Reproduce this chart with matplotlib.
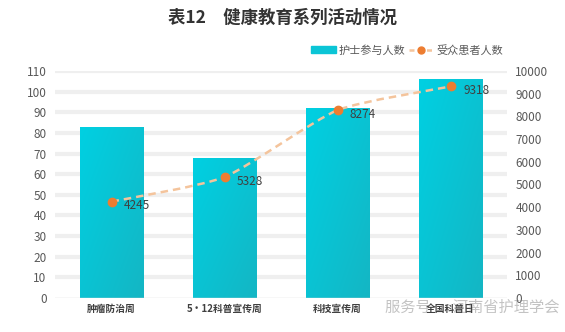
import numpy as np
import matplotlib.pyplot as plt
from matplotlib.path import Path
from matplotlib.patches import PathPatch
from matplotlib.lines import Line2D
from matplotlib.patches import Patch
from matplotlib.colors import LinearSegmentedColormap

plt.rcParams['font.family'] = ['Noto Sans CJK SC', 'DejaVu Sans']

# data
categories = ['肿瘤防治周', '5•12科普宣传周', '科技宣传周', '全国科普日']
nurses = [83, 68, 92, 106]
patients = [4245, 5328, 8274, 9318]

bar_color = '#0BC5D6'
line_color = '#F4C49C'
marker_color = '#ED7D31'

fig = plt.figure(figsize=(5.65, 3.32), dpi=100)
ax = fig.add_axes([55 / 565, 1 - 298 / 332, 452 / 565, 227 / 332])
ax2 = ax.twinx()

x = np.arange(len(categories))
bars = ax.bar(x, nurses, width=0.566, color=bar_color, zorder=2)

# diagonal gradient on bars (light top-left, darker bottom-right)
cmap = LinearSegmentedColormap.from_list('g', ['#00D0E2', '#14B6C4'])
gx, gy = np.meshgrid(np.linspace(0, 1, 40), np.linspace(0, 1, 120))
grad = (gx + gy) / 2
for b in bars:
    x0, y0 = b.get_x(), b.get_y()
    im = ax.imshow(grad, cmap=cmap, extent=(x0, x0 + b.get_width(), y0, y0 + b.get_height()),
                   origin='upper', aspect='auto', zorder=2, interpolation='bilinear')
    im.set_clip_path(b)
    b.set_alpha(0)

ax.set_xlim(-0.5, 3.5)
ax.set_ylim(0, 110)
ax.set_yticks(range(0, 111, 10))
ax2.set_ylim(0, 10000)
ax2.set_yticks(range(0, 10001, 1000))

# grid bands
for v in range(10, 111, 10):
    ax.axhline(v, color='#EFEFEF', lw=3, zorder=0)
ax.axhline(0, color='#D9D9D9', lw=1, zorder=3)

# smooth dashed line through the points
px = x.astype(float)
py = np.array(patients, dtype=float)
verts = [(px[0], py[0])]
codes = [Path.MOVETO]
t = 0.1
for i in range(len(px) - 1):
    p0 = (px[i - 1], py[i - 1]) if i > 0 else (px[i], py[i])
    p1 = (px[i], py[i])
    p2 = (px[i + 1], py[i + 1])
    p3 = (px[i + 2], py[i + 2]) if i + 2 < len(px) else p2
    c1 = (p1[0] + (p2[0] - p0[0]) * t, p1[1] + (p2[1] - p0[1]) * t)
    c2 = (p2[0] - (p3[0] - p1[0]) * t, p2[1] - (p3[1] - p1[1]) * t)
    verts += [c1, c2, p2]
    codes += [Path.CURVE4] * 3
ax2.add_patch(PathPatch(Path(verts, codes), fill=False, ec=line_color, lw=1.8,
                        ls=(0, (3, 2)), zorder=4))
ax2.plot(px, py, 'o', color=marker_color, ms=6, zorder=5)
for xi, yi in zip(px, py):
    ax2.annotate(str(int(yi)), (xi, yi), xytext=(9, -3), textcoords='offset points',
                 fontsize=8.5, color='#404040', va='center', ha='left', zorder=6)

for a in (ax, ax2):
    for s in a.spines.values():
        s.set_visible(False)
    a.tick_params(length=0, labelsize=8.5, colors='#595959')

ax.set_xticks(x)
ax.set_xticklabels(categories, fontsize=7, fontweight='bold', color='#404040')
ax.tick_params(axis='x', pad=4)
ax.tick_params(axis='y', pad=6)
ax2.tick_params(axis='y', pad=6)

fig.text(0.5, 1 - 18 / 332, '表12　健康教育系列活动情况', ha='center', va='center',
         fontsize=12.5, fontweight='bold', color='#333333')

handles = [Patch(color=bar_color),
           Line2D([], [], color=line_color, ls=(0, (2, 1.5)), lw=1.8,
                  marker='o', mfc=marker_color, mec=marker_color, ms=5)]
fig.legend(handles, ['护士参与人数', '受众患者人数'], loc='center right',
           bbox_to_anchor=(508 / 565, 1 - 50 / 332), ncol=2, frameon=False,
           fontsize=8, labelcolor='#595959', handlelength=2.2, handletextpad=0.3,
           columnspacing=0.3, handleheight=0.6, borderaxespad=0)

fig.text(0.99, 1 - 307 / 332, '服务号 · 河南省护理学会', ha='right', va='center',
         fontsize=11, color='#888888', alpha=0.5)

fig.savefig('out.png', dpi=100)
